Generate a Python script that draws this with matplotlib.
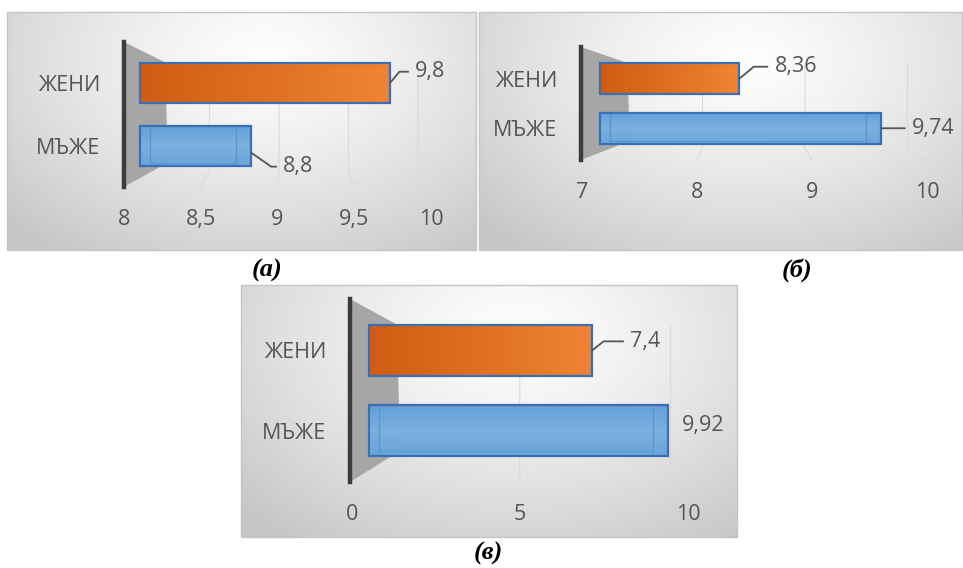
"""Three 3-D style horizontal bar panels (а, б, в): ЖЕНИ vs МЪЖЕ."""

import matplotlib
matplotlib.use("Agg")
import matplotlib.pyplot as plt
from matplotlib.patches import Polygon, Rectangle
from matplotlib.ticker import FuncFormatter
import numpy as np

plt.rcParams["font.family"] = ["Open Sans", "DejaVu Sans"]

W, H = 963, 568

categories = ["ЖЕНИ", "МЪЖЕ"]
values_a = [9.8, 8.8]
values_b = [8.36, 9.74]
values_c = [7.4, 9.92]
ticks_a = [8, 8.5, 9, 9.5, 10]
ticks_b = [7, 8, 9, 10]
ticks_c = [0, 5, 10]
captions = ["(а)", "(б)", "(в)"]

TXT = "#555555"
ORANGE_DARK, ORANGE_LIGHT = "#cf5c12", "#f08434"
BLUE_FACE, BLUE_LIGHT = "#62a0d8", "#8fbde8"
EDGE = "#3a6fb4"


def fx(x):
    return x / W


def fy(y):
    return 1 - y / H


def comma(v, _pos=None):
    s = f"{v:g}"
    return s.replace(".", ",")


def background(fig, x0, y0, x1, y1):
    bg = fig.add_axes([fx(x0), fy(y1), fx(x1 - x0), (y1 - y0) / H])
    bg.set_zorder(0)
    xx, yy = np.meshgrid(np.linspace(0, 1, 300), np.linspace(0, 1, 200))
    r = np.sqrt(((xx - 0.55) / 0.75) ** 2 + ((yy - 0.2) / 1.0) ** 2)
    r = np.clip(r, 0, 1) ** 1.3
    light, dark = np.array([0.995, 0.995, 0.995]), np.array([0.78, 0.78, 0.78])
    img = light + (dark - light) * r[..., None]
    bg.imshow(img, extent=[0, 1, 0, 1], aspect="auto", origin="upper")
    bg.set_xlim(0, 1); bg.set_ylim(0, 1)
    bg.axis("off")
    fig.add_artist(Rectangle((fx(x0), fy(y1)), fx(x1 - x0), (y1 - y0) / H,
                             transform=fig.transFigure, fill=False,
                             ec="#c4c4c4", lw=1.0, zorder=0.5))


def panel(fig, values, ticks, base, box, bg, bar_px0, bar_scale,
          tick_px0, tick_scale, depth, label_offsets, leader_angles):
    background(fig, *bg)
    left, top, right, bottom = box
    ax = fig.add_axes([fx(left), fy(bottom), fx(right - left), (bottom - top) / H])
    ax.set_zorder(1)
    ax.patch.set_alpha(0)

    xmin = base + (left - bar_px0) / bar_scale
    xmax = base + (right - bar_px0) / bar_scale
    ax.set_xlim(xmin, xmax)
    ax.set_ylim(-0.64, 1.64)

    # gray side wall next to the category axis
    h = bottom - top
    wall = Polygon([(fx(left), fy(top)), (fx(left + depth), fy(top + 0.14 * h)),
                    (fx(left + depth + 3), fy(bottom - 0.17 * h)),
                    (fx(left), fy(bottom))],
                   closed=True, transform=fig.transFigure,
                   fc="#a6a6a6", ec="none", zorder=0.8)
    fig.add_artist(wall)

    def fwd(x, b=base):
        return b + ((x - b) * bar_scale - (tick_px0 - bar_px0)) / tick_scale

    def inv(v, b=base):
        return b + ((v - b) * tick_scale + (tick_px0 - bar_px0)) / bar_scale

    # faint floor gridlines: back position to front tick position
    for t in ticks[1:]:
        ax.plot([t, t, inv(t)], [1.3, -0.4, -0.64], color="#dadada",
                lw=0.8, zorder=1, clip_on=False)

    ypos = np.arange(len(categories))[::-1]
    widths = np.array(values) - base
    bars = ax.barh(ypos, widths, left=base, height=0.63, zorder=3)

    for i, (bar, v) in enumerate(zip(bars, values)):
        x0, y0 = bar.get_x(), bar.get_y()
        bw, bh = bar.get_width(), bar.get_height()
        if i == 0:
            bar.set_facecolor(ORANGE_DARK)
            grad = np.linspace(0, 1, 256)[None, :, None]
            c0 = np.array(matplotlib.colors.to_rgb(ORANGE_DARK))
            c1 = np.array(matplotlib.colors.to_rgb(ORANGE_LIGHT))
            img = c0 + (c1 - c0) * grad
            im = ax.imshow(img, extent=[x0, x0 + bw, y0, y0 + bh],
                           aspect="auto", zorder=3.1)
            im.set_clip_path(bar)
        else:
            bar.set_facecolor(BLUE_FACE)
            bar.set_alpha(0.9)
            grad = np.concatenate([np.linspace(0, 1, 64), np.linspace(1, 0.3, 64)])
            c0 = np.array(matplotlib.colors.to_rgb(BLUE_FACE))
            c1 = np.array(matplotlib.colors.to_rgb(BLUE_LIGHT))
            img = c0 + (c1 - c0) * grad[:, None, None] * 0.6
            img = np.repeat(img, 4, axis=1)
            im = ax.imshow(img, extent=[x0, x0 + bw, y0, y0 + bh],
                           aspect="auto", zorder=3.1, alpha=0.9)
            im.set_clip_path(bar)
            # end faces of the 3-D bar
            for xe in (x0 + 10 / bar_scale, x0 + bw - 15 / bar_scale):
                ax.plot([xe, xe], [y0 + 0.05, y0 + bh - 0.05],
                        color="#4a88c8", lw=0.9, alpha=0.6, zorder=3.3)
            ax.plot([x0 + 10 / bar_scale, x0 + bw - 15 / bar_scale],
                    [y0 + 0.06, y0 + 0.06], color="#4a88c8", lw=0.8,
                    alpha=0.45, zorder=3.3)
        edge = Rectangle((x0, y0), bw, bh, fill=False, ec=EDGE, lw=1.6,
                         zorder=3.5)
        ax.add_patch(edge)

    ax.set_xlim(xmin, xmax)
    ax.set_ylim(-0.64, 1.64)

    # value labels with leader lines
    for yp, v, off, ang in zip(ypos, values, label_offsets, leader_angles):
        kw = {}
        if ang is not None:
            style = "arc3" if ang == 0 else f"angle,angleA=0,angleB={ang},rad=0"
            kw["arrowprops"] = dict(arrowstyle="-", color=TXT, lw=1.3,
                                    relpos=(0, 0.5), shrinkA=3, shrinkB=0,
                                    connectionstyle=style)
        ax.annotate(comma(v), xy=(v, yp + off[2]), xytext=off[:2],
                    textcoords="offset pixels", ha="left", va="center",
                    fontsize=15.5, color=TXT, zorder=5, **kw)

    # category axis: dark wall line
    for s in ("top", "right", "bottom"):
        ax.spines[s].set_visible(False)
    ax.spines["left"].set_linewidth(3.2)
    ax.spines["left"].set_color("#3c3c3c")
    ax.spines["left"].set_zorder(4)
    ax.set_yticks(ypos, labels=categories)
    ax.tick_params(axis="y", length=0, pad=17, labelsize=15.5, labelcolor=TXT)
    ax.set_xticks([])

    sec = ax.secondary_xaxis("bottom", functions=(fwd, inv))
    sec.set_xticks(ticks)
    sec.xaxis.set_major_formatter(FuncFormatter(comma))
    sec.tick_params(length=0, pad=16, labelsize=15.5, labelcolor=TXT)
    sec.spines["bottom"].set_visible(False)
    return ax


fig = plt.figure(figsize=(W / 100, H / 100), dpi=100)

panel(fig, values_a, ticks_a, 8, box=(124, 42, 462, 187), bg=(7, 12, 476, 250),
      bar_px0=140, bar_scale=139, tick_px0=124, tick_scale=153.5, depth=41,
      label_offsets=[(25, 11, 0.0), (32, -14, -0.1)], leader_angles=[50, -35])
panel(fig, values_b, ticks_b, 7, box=(581, 47, 955, 160), bg=(479, 12, 962, 250),
      bar_px0=600, bar_scale=102.5, tick_px0=582, tick_scale=115, depth=46,
      label_offsets=[(35, 12, 0.0), (31, 0, 0.0)], leader_angles=[40, 0])
panel(fig, values_c, ticks_c, 0, box=(350, 299, 725, 482), bg=(241, 285, 737, 537),
      bar_px0=369, bar_scale=30.15, tick_px0=352, tick_scale=33.6, depth=47,
      label_offsets=[(38, 9, 0.0), (14, 5, 0.0)], leader_angles=[38, None])

for cap, (x, y) in zip(captions, [(267, 270), (797, 270), (488, 553)]):
    fig.text(fx(x), fy(y), cap, ha="center", va="center", fontsize=19,
             family=["Liberation Serif", "DejaVu Serif"], weight="bold",
             style="italic")

fig.savefig("out.png", dpi=100)
